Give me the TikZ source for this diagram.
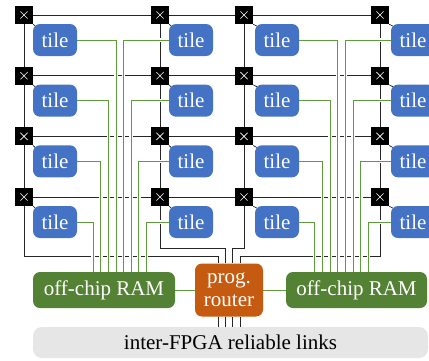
\documentclass[tikz,border=0pt]{standalone}
\usepackage{fontspec}
\setmainfont{Liberation Serif}
\usetikzlibrary{calc}
\definecolor{tileblue}{HTML}{4472C4}
\definecolor{ramgreen}{HTML}{548235}
\definecolor{busgreen}{HTML}{5F9A3C}
\definecolor{routerorange}{HTML}{C55A11}
\definecolor{linkgray}{HTML}{E7E6E6}
\pgfdeclarelayer{background}
\pgfsetlayers{background,main}
\begin{document}
\begin{tikzpicture}[x=1pt,y=-1pt,
  bigfont/.style={font=\fontsize{21}{23}\selectfont},
  tilebox/.style={fill=tileblue, rounded corners=7pt, minimum width=44pt, minimum height=32pt, inner sep=0pt, text=white, bigfont},
  xbar/.style={fill=black, minimum size=18pt, inner sep=0pt,
    path picture={\draw[white, line width=0.6pt]
      ($(path picture bounding box.center)+(-3.6,-3.6)$) -- ($(path picture bounding box.center)+(3.6,3.6)$)
      ($(path picture bounding box.center)+(-3.6,3.6)$) -- ($(path picture bounding box.center)+(3.6,-3.6)$);}},
  rambox/.style={fill=ramgreen, rounded corners=7pt, minimum height=36pt, inner sep=0pt, text=white, bigfont},
  routerbox/.style={fill=routerorange, rounded corners=7pt, minimum width=68pt, minimum height=53pt, inner sep=0pt, text=white, align=center, bigfont},
  linkbox/.style={fill=linkgray, rounded corners=9pt, minimum width=395pt, minimum height=31pt, inner sep=0pt, text=black, bigfont},
  wire/.style={line width=0.9pt, black!85},
  tick/.style={line width=0.6pt, black},
  bus/.style={line width=0.8pt, draw=busgreen, preaction={draw=white, line width=3.6pt}}]
\useasboundingbox (0,0) rectangle (429,360);

% routers and tiles
\foreach \c/\rx/\tx in {1/24/55, 2/160/191, 3/244/277, 4/380/413}
  \foreach \r/\ry in {1/15, 2/75.67, 3/136.33, 4/197} {
    \node[xbar] (r\r\c) at (\rx,\ry) {};
    \node[tilebox] (t\r\c) at (\tx,\ry+25) {tile};
  }

\node[rambox, minimum width=142pt] (L) at (104,290) {off-chip RAM};
\node[rambox, minimum width=141pt] (R) at (356.5,290) {off-chip RAM};
\node[routerbox] (P) at (229,290) {prog.\\router};
\node[linkbox] (K) at (230.5,342.5) {inter-FPGA reliable links};

\begin{pgfonlayer}{background}
  % mesh
  \foreach \r in {1,...,4} \draw[wire] (r\r1) -- (r\r4);
  \foreach \c in {1,...,4} \draw[wire] (r1\c) -- (r4\c);
  % router to tile ticks
  \foreach \r in {1,...,4} \foreach \c in {1,...,4}
    \draw[tick] (r\r\c.south east) -- ($(t\r\c.north west)+(2.5,2.5)$);
  % mesh to programmable router
  \draw[wire] (r41) |- ($(P.north)+(-11,-7)$) -- ($(P.north)+(-11,0)$);
  \draw[wire] (r42) |- ($(P.north)+(-3.7,-15)$) -- ($(P.north)+(-3.7,0)$);
  \draw[wire] (r43) |- ($(P.north)+(3.7,-15)$) -- ($(P.north)+(3.7,0)$);
  \draw[wire] (r44) |- ($(P.north)+(11,-7)$) -- ($(P.north)+(11,0)$);
  \foreach \dx in {-11,-3.7,3.7,11}
    \draw[wire] ($(P.south)+(\dx,0)$) -- ($(P.south)+(\dx,11)$);
  % tiles to RAM buses
  \foreach \r in {1,...,4} {
    \pgfmathsetmacro\xa{116-7.6*(\r-1)}
    \pgfmathsetmacro\xb{123.6+7.6*(\r-1)}
    \pgfmathsetmacro\xc{337.7-7.7*(\r-1)}
    \pgfmathsetmacro\xd{345.4+7.7*(\r-1)}
    \coordinate (ba\r) at (\xa,0);
    \coordinate (bb\r) at (\xb,0);
    \coordinate (bc\r) at (\xc,0);
    \coordinate (bd\r) at (\xd,0);
    \draw[bus] (t\r1.east) -| (ba\r |- L.north);
    \draw[bus] (t\r2.west) -| (bb\r |- L.north);
    \draw[bus] (t\r3.east) -| (bc\r |- R.north);
    \draw[bus] (t\r4.west) -| (bd\r |- R.north);
  }
  \draw[bus] (L) -- (P);
  \draw[bus] (P) -- (R);
\end{pgfonlayer}
\end{tikzpicture}
\end{document}
